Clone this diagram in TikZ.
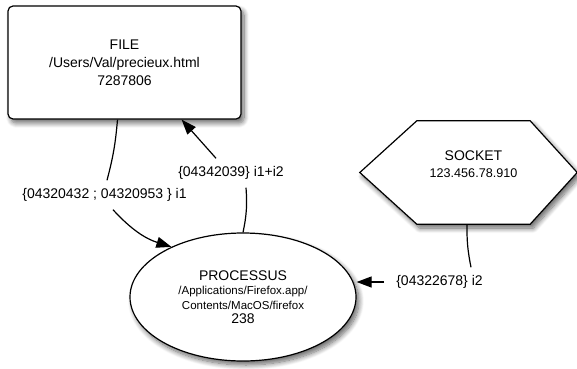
\documentclass[tikz,border=0pt]{standalone}
\usepackage{fontspec}
\setmainfont{Liberation Sans}
\usepackage{tikz}
\usetikzlibrary{positioning,calc,arrows.meta,shapes.geometric,backgrounds,shadows.blur}

\begin{document}
\begin{tikzpicture}[x=1pt,y=1pt]
	\tikzset{
		sh/.style={blur shadow={shadow xshift=3pt, shadow yshift=-4pt, shadow blur radius=5pt, shadow blur steps=10, shadow opacity=60}},
		box/.style={draw=black, line width=1.2pt, fill=white, sh, align=center,
			font=\fontsize{14}{18}\selectfont},
		lbl/.style={inner xsep=12pt, inner ysep=8pt, font=\fontsize{14}{16}\selectfont},
		a/.style={line width=1.2pt, -{Triangle[length=15pt,width=11pt]}},
		l/.style={line width=1.2pt}
	}
	\useasboundingbox (0,0) rectangle (577,368);
	% nodes
	\node[box, rounded corners=5pt, minimum width=233pt, minimum height=113pt] (file) at (124.5,305.5)
		{FILE\\/Users/Val/precieux.html\\7287806};
	\node[box, ellipse, minimum width=226pt, minimum height=128pt, inner sep=0pt,
		font=\fontsize{11.5}{14.5}\selectfont] (proc) at (243,71)
		{{\fontsize{14}{14}\selectfont PROCESSUS}\\/Applications/Firefox.app/\\Contents/MacOS/firefox\\{\fontsize{14}{14}\selectfont 238}};
	\node[minimum width=113pt, minimum height=103pt, inner sep=0pt] (socket) at (473.5,195.5) {};
	\node[align=center, font=\fontsize{14}{17}\selectfont] (sockettxt) at ([yshift=8pt]socket.center)
		{SOCKET\\{\fontsize{12.6}{12.6}\selectfont 123.456.78.910}};
	\begin{scope}[on background layer]
		\draw[box] (socket.north west) -- (socket.north east) -- ([xshift=47pt]socket.east)
			-- (socket.south east) -- (socket.south west) -- ([xshift=-57pt]socket.west) -- cycle;
	\end{scope}
	
	% labels
	\node[lbl] (i1) at (104.5,173) {\{04320432 ; 04320953 \} i1};
	\node[lbl] (i12) at (231,195) {\{04342039\} i1+i2};
	\node[lbl] (i2) at (439.5,86) {\{04322678\} i2};
	
	% connectors
	\draw[l] (file.-97) to[bend left=5] ([xshift=2.5pt]i1.north);
	\draw[a] ([xshift=8.5pt]i1.south) to[bend right=15] (proc.145);
	\draw[l] (proc.north) to[bend right=8] ([xshift=15pt]i12.south);
	\draw[a] ([xshift=-15pt]i12.north) -- (file.-45);
	\draw[l] ([xshift=-6.5pt]socket.south) to[bend right=6] ([xshift=31.5pt]i2.north);
	\draw[a] (i2.west) -- (i2.west -| proc.east);
\end{tikzpicture}
\end{document}
